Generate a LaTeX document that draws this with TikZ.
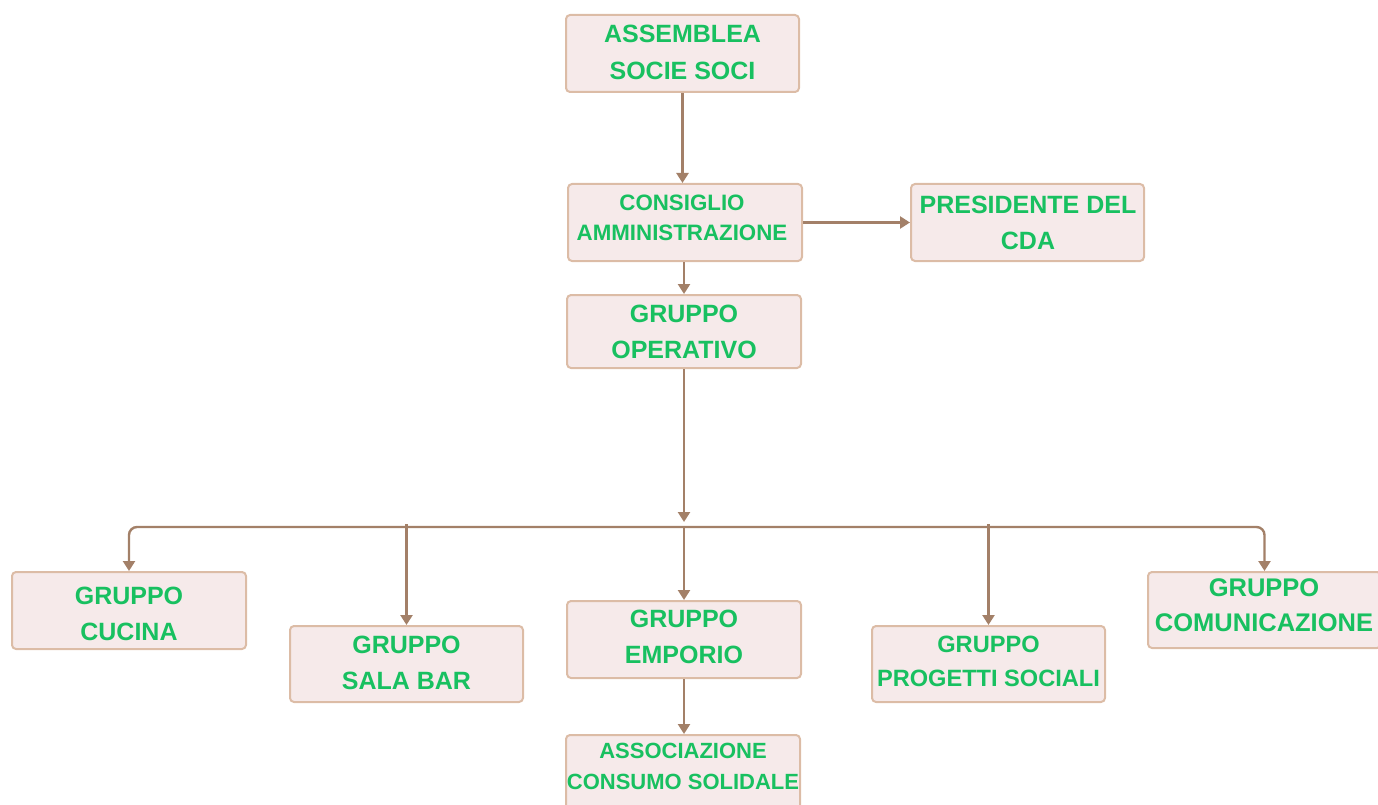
\documentclass[tikz,border=0pt]{standalone}
\usepackage{fontspec}
\setmainfont{Liberation Sans}
\usetikzlibrary{arrows.meta}
\definecolor{boxfill}{RGB}{246,234,234}
\definecolor{boxline}{RGB}{220,188,166}
\definecolor{connc}{RGB}{163,128,104}
\definecolor{txtc}{RGB}{24,192,96}
\tikzset{
  box/.style={draw=boxline, fill=boxfill, line width=2pt, rounded corners=4pt, inner sep=0pt},
  lbl/.style={text=txtc, align=center, inner sep=0pt, font=\bfseries},
  conn/.style={draw=connc, line width=2.4pt, -{Triangle[length=10pt,width=12pt]}},
}
\newcommand{\fs}[2]{\fontsize{#1}{#2}\selectfont}
\begin{document}
\begin{tikzpicture}[x=1pt,y=-1pt]
\useasboundingbox (0,0) rectangle (1378,805);
\clip (0,0) rectangle (1378,805);
% boxes
\node[box, minimum width=233pt, minimum height=77pt] (ass) at (682.5,53.5) {};
\node[box, minimum width=234pt, minimum height=77pt] (cons) at (685,222.5) {};
\node[box, minimum width=233pt, minimum height=77pt] (pres) at (1027.5,222.5) {};
\node[box, minimum width=234pt, minimum height=73pt] (op) at (684,331.5) {};
\node[box, minimum width=234pt, minimum height=77pt] (cuc) at (129,610.5) {};
\node[box, minimum width=233pt, minimum height=76pt] (sal) at (406.5,664) {};
\node[box, minimum width=234pt, minimum height=77pt] (emp) at (684,639.5) {};
\node[box, minimum width=233pt, minimum height=76pt] (prog) at (988.5,664) {};
\node[box, minimum width=233pt, minimum height=76pt] (com) at (1264.5,610) {};
\node[box, minimum width=234pt, minimum height=77pt] (assoc) at (683,773.5) {};
% labels
\node[lbl, font=\bfseries\fs{25}{37}] (asst) at (682.5,52.5) {ASSEMBLEA\\SOCIE SOCI};
\node[lbl, font=\bfseries\fs{22.3}{30}] (const) at (682,218) {CONSIGLIO\\AMMINISTRAZIONE};
\node[lbl, font=\bfseries\fs{25}{36}] (prest) at (1028,223) {PRESIDENTE DEL\\CDA};
\node[lbl, font=\bfseries\fs{25}{36}] (opt) at (684,332) {GRUPPO\\OPERATIVO};
\node[lbl, font=\bfseries\fs{25}{36}] (cuct) at (129,614) {GRUPPO\\CUCINA};
\node[lbl, font=\bfseries\fs{25}{36}] (salt) at (406.5,663) {GRUPPO\\SALA BAR};
\node[lbl, font=\bfseries\fs{25}{36}] (empt) at (684,637) {GRUPPO\\EMPORIO};
\node[lbl, font=\bfseries\fs{23.6}{34}] (progt) at (988.5,661) {GRUPPO\\PROGETTI SOCIALI};
\node[lbl, font=\bfseries\fs{25.5}{35}] (comt) at (1264,605.5) {GRUPPO\\COMUNICAZIONE};
\node[lbl, font=\bfseries\fs{22}{31}] (assoct) at (683,766.5) {ASSOCIAZIONE\\CONSUMO SOLIDALE};
% connectors
\coordinate (busc) at (684,522);
\coordinate (busm) at (684,527);
\coordinate (busl) at (129,527);
\coordinate (busr) at (1264.5,527);
\coordinate (sals) at (406.5,524);
\coordinate (progs) at (988.5,524);
\draw[conn] (ass.south) -- (ass.south |- cons.north);
\draw[conn] (op.north |- cons.south) -- (op.north);
\draw[conn] (cons.east) -- (pres.west);
\draw[conn] (op.south) -- (busc);
\draw[conn, rounded corners=8pt] (busm) -- (busl) -- (cuc.north);
\draw[conn, rounded corners=8pt] (busm) -- (busr) -- (com.north);
\draw[conn] (sals) -- (sal.north);
\draw[conn] (busm) -- (emp.north);
\draw[conn] (progs) -- (prog.north);
\draw[conn] (emp.south) -- (emp.south |- assoc.north);
\end{tikzpicture}
\end{document}
